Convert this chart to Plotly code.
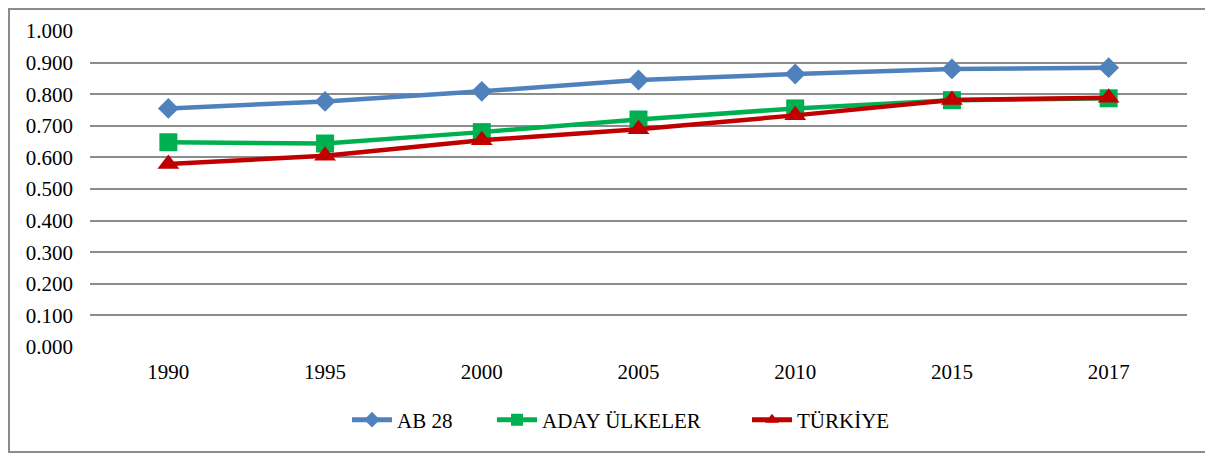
import plotly.graph_objects as go

years = ["1990", "1995", "2000", "2005", "2010", "2015", "2017"]
ab28 = [0.755, 0.777, 0.809, 0.845, 0.864, 0.880, 0.884]
aday = [0.648, 0.644, 0.680, 0.720, 0.755, 0.781, 0.787]
turkiye = [0.579, 0.605, 0.654, 0.689, 0.733, 0.782, 0.789]
y_ticks = [i / 10 for i in range(11)]

FONT = "Times New Roman, Liberation Serif, serif"
FS = 21

# page has 8px body offset; figure coordinates = page coordinates - 8
W, H = 1205, 449
L, R, T, B = 82, 26, 23, 110
pw, ph = W - L - R, H - T - B


def px(x):
    return (x - L) / pw


def py(y):
    return (H - B - y) / ph


fig = go.Figure()
fig.add_trace(go.Scatter(x=years, y=ab28, name="AB 28", mode="lines+markers",
                         line=dict(color="#4f81bd", width=4.5), legend="legend",
                         marker=dict(symbol="diamond", size=16, color="#4f81bd")))
fig.add_trace(go.Scatter(x=years, y=aday, name="ADAY ÜLKELER", mode="lines+markers",
                         line=dict(color="#00b050", width=4.5), legend="legend2",
                         marker=dict(symbol="square", size=18, color="#00b050")))
fig.add_trace(go.Scatter(x=years, y=turkiye, name="TÜRKİYE", mode="lines+markers",
                         line=dict(color="#c00000", width=4.5), legend="legend3",
                         marker=dict(symbol="triangle-up", size=19, color="#c00000")))

leg_common = dict(orientation="h", yanchor="middle", y=py(412), xanchor="left",
                  font=dict(family=FONT, size=FS, color="black"), itemwidth=40,
                  itemsizing="constant", bgcolor="rgba(0,0,0,0)")

fig.update_layout(
    width=W, height=H,
    margin=dict(l=L, r=R, t=T, b=B, autoexpand=False),
    paper_bgcolor="white", plot_bgcolor="white",
    font=dict(family=FONT, size=FS, color="black"),
    showlegend=True,
    legend=dict(x=px(347 - 8), **leg_common),
    legend2=dict(x=px(492 - 8), **leg_common),
    legend3=dict(x=px(747 - 8), **leg_common),
    xaxis=dict(type="category", range=[-0.5, 6.5], showgrid=False, showline=False,
               zeroline=False, ticks="", ticklabelstandoff=10,
               tickfont=dict(family=FONT, size=FS)),
    yaxis=dict(range=[0, 1], tickvals=y_ticks, tickformat=".3f", showgrid=True,
               gridcolor="#8c8c8c", gridwidth=2, zeroline=False, showline=False,
               ticks="", ticklen=0, ticklabelstandoff=16,
               tickfont=dict(family=FONT, size=FS)),
    shapes=[dict(type="rect", xref="paper", yref="paper",
                 x0=px(1), x1=px(1199), y0=py(444), y1=py(1),
                 line=dict(color="#8c8c8c", width=2), fillcolor="rgba(0,0,0,0)", layer="below")],
)

fig.write_html("out.html")
